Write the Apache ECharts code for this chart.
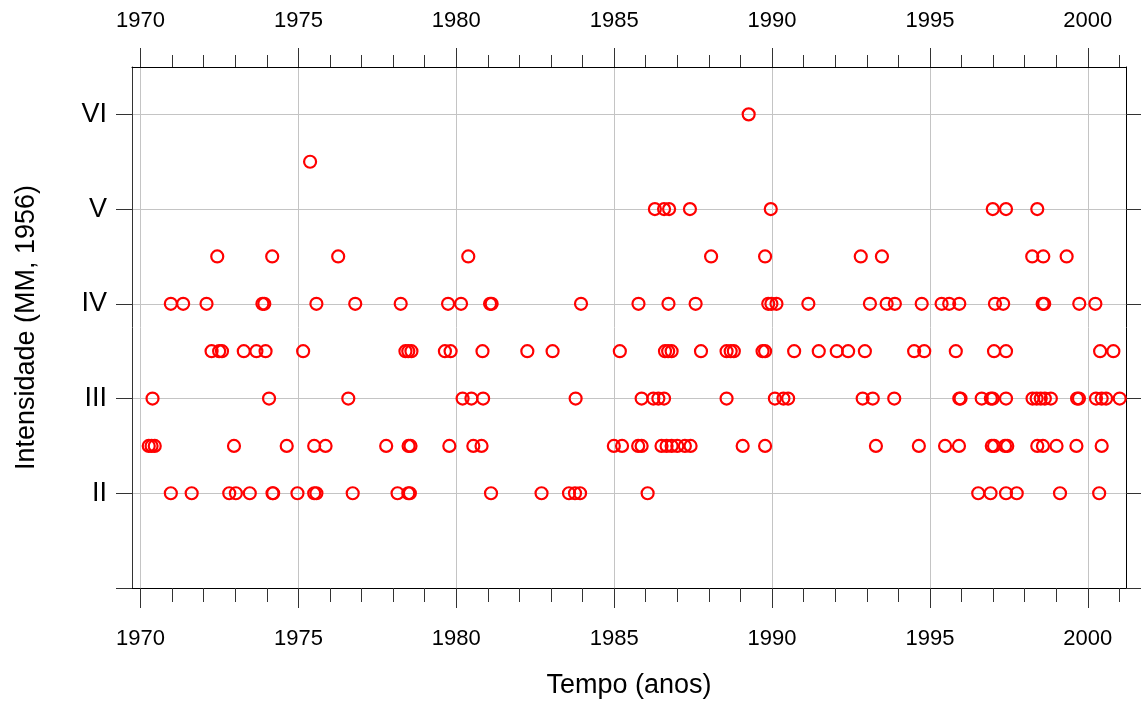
<!DOCTYPE html>
<html><head><meta charset="utf-8">
<script src="https://cdn.jsdelivr.net/npm/echarts@6/dist/echarts.min.js"></script>
<style>html,body{margin:0;padding:0;background:#fff}#c{width:1141px;height:704px}</style>
</head><body><div id="c"></div><script>
// Intensity levels (MM, 1956) and the years of the events at each level
const yearsL2 = [1970.96,1971.62,1972.81,1973.02,1973.46,1974.18,1974.20,1974.97,1975.50,1975.57,1976.72,1978.14,1978.48,1978.53,1981.10,1982.70,1983.57,1983.76,1983.92,1986.06,1996.53,1996.92,1997.41,1997.75,1999.12,2000.36];
const yearsL25 = [1970.26,1970.35,1970.45,1972.96,1974.63,1975.50,1975.86,1977.78,1978.49,1978.55,1979.78,1980.54,1980.80,1984.99,1985.25,1985.76,1985.87,1986.50,1986.66,1986.82,1987.00,1987.24,1987.42,1989.07,1989.78,1993.29,1994.65,1995.48,1995.92,1996.96,1997.03,1997.38,1997.45,1998.40,1998.58,1999.01,1999.64,2000.44];
const yearsL3 = [1970.38,1974.07,1976.58,1980.20,1980.48,1980.85,1983.78,1985.87,1986.24,1986.40,1986.58,1988.56,1990.09,1990.36,1990.51,1992.87,1993.19,1993.87,1995.93,1995.97,1996.64,1996.93,1996.99,1997.41,1998.25,1998.38,1998.51,1998.64,1998.83,1999.66,1999.72,2000.26,2000.44,2000.58,2001.01];
const yearsL35 = [1972.25,1972.49,1972.58,1973.27,1973.67,1973.96,1975.15,1978.39,1978.48,1978.58,1979.64,1979.82,1980.83,1982.25,1983.05,1985.18,1986.61,1986.71,1986.82,1987.75,1988.56,1988.69,1988.79,1989.70,1989.78,1990.70,1991.48,1992.05,1992.41,1992.94,1994.50,1994.82,1995.82,1997.03,1997.41,2000.39,2000.81];
const yearsL4 = [1970.96,1971.35,1972.09,1973.86,1973.92,1975.57,1976.80,1978.24,1979.74,1980.15,1981.07,1981.12,1983.95,1985.77,1986.72,1987.58,1989.88,1989.98,1990.14,1991.15,1993.10,1993.63,1993.89,1994.74,1995.37,1995.61,1995.93,1997.06,1997.32,1998.57,1998.62,1999.73,2000.24];
const yearsL45 = [1972.43,1974.17,1976.26,1980.38,1988.07,1989.78,1992.81,1993.48,1998.24,1998.59,1999.33];
const yearsL5 = [1986.29,1986.58,1986.74,1987.40,1989.96,1996.99,1997.41,1998.40];
const yearsL55 = [1975.37];
const yearsL6 = [1989.26];

const levels = [2, 2.5, 3, 3.5, 4, 4.5, 5, 5.5, 6];
const yearsByLevel = [yearsL2, yearsL25, yearsL3, yearsL35, yearsL4, yearsL45, yearsL5, yearsL55, yearsL6];

const xMajorTicks = [1970, 1975, 1980, 1985, 1990, 1995, 2000];
const xMinorTicks = [1970,1971,1972,1973,1974,1975,1976,1977,1978,1979,1980,1981,1982,1983,1984,1985,1986,1987,1988,1989,1990,1991,1992,1993,1994,1995,1996,1997,1998,1999,2000,2001];
const yTickValues = [1, 2, 3, 4, 5, 6];
const yLabelValues = [2, 3, 4, 5, 6];
const yTickLabels = ['II', 'III', 'IV', 'V', 'VI'];

const points = [];
levels.forEach((lv, i) => yearsByLevel[i].forEach(y => points.push([y, lv])));

const FONT = '"Liberation Sans", Arial, sans-serif';
const X_MIN = 1969.73, X_MAX = 2001.21;
const yearFmt = v => String(Math.round(v));

const chart = echarts.init(document.getElementById('c'), null, {renderer: 'canvas'});
chart.setOption({
  animation: false,
  backgroundColor: '#fff',
  grid: {left: 132, right: 15, top: 67, bottom: 115, containLabel: false},
  xAxis: [
    { // bottom major
      type: 'value', position: 'bottom', min: X_MIN, max: X_MAX,
      name: 'Tempo (anos)', nameLocation: 'middle', nameGap: 84,
      nameTextStyle: {fontFamily: FONT, fontSize: 27, color: '#000'},
      axisLine: {show: true, onZero: false, lineStyle: {color: '#000', width: 1}},
      axisTick: {show: true, inside: false, length: 20, customValues: xMajorTicks, lineStyle: {color: '#333'}},
      axisLabel: {show: true, customValues: xMajorTicks, margin: 40, fontFamily: FONT, fontSize: 22, color: '#000', formatter: yearFmt},
      splitLine: {show: true, lineStyle: {color: '#c4c4c4', width: 1}}
    },
    { // bottom minor
      type: 'value', position: 'bottom', min: X_MIN, max: X_MAX,
      axisLine: {show: false, onZero: false},
      axisTick: {show: true, inside: false, length: 14, customValues: xMinorTicks, lineStyle: {color: '#333'}},
      axisLabel: {show: false}, splitLine: {show: false}
    },
    { // top major
      type: 'value', position: 'top', min: X_MIN, max: X_MAX,
      axisLine: {show: true, onZero: false, lineStyle: {color: '#000', width: 1}},
      axisTick: {show: true, inside: false, length: 19, customValues: xMajorTicks, lineStyle: {color: '#333'}},
      axisLabel: {show: true, customValues: xMajorTicks, margin: 35, fontFamily: FONT, fontSize: 22, color: '#000', formatter: yearFmt},
      splitLine: {show: false}
    },
    { // top minor
      type: 'value', position: 'top', min: X_MIN, max: X_MAX,
      axisLine: {show: false, onZero: false},
      axisTick: {show: true, inside: false, length: 12, customValues: xMinorTicks, lineStyle: {color: '#333'}},
      axisLabel: {show: false}, splitLine: {show: false}
    }
  ],
  yAxis: [
    { // left with labels
      type: 'value', position: 'left', min: 1, max: 6.5,
      name: 'Intensidade (MM, 1956)', nameLocation: 'middle', nameGap: 92,
      nameTextStyle: {fontFamily: FONT, fontSize: 27, color: '#000'},
      axisLine: {show: true, onZero: false, lineStyle: {color: '#333', width: 1}},
      axisTick: {show: true, inside: false, length: 16, customValues: yTickValues, lineStyle: {color: '#333'}},
      axisLabel: {show: true, customValues: yLabelValues, margin: 25, fontFamily: FONT, fontSize: 27, color: '#000',
        formatter: v => yTickLabels[yLabelValues.indexOf(Math.round(v))] || ''},
      splitLine: {show: false}
    },
    { // right
      type: 'value', position: 'right', min: 1, max: 6.5,
      axisLine: {show: true, onZero: false, lineStyle: {color: '#000', width: 1}},
      axisTick: {show: true, inside: false, length: 15, customValues: yTickValues, lineStyle: {color: '#333'}},
      axisLabel: {show: false}, splitLine: {show: false}
    },
    { // horizontal grid lines
      type: 'value', position: 'left', min: 1, max: 6.5,
      axisLine: {show: false, onZero: false},
      axisTick: {show: false, customValues: yLabelValues},
      axisLabel: {show: false},
      splitLine: {show: true, lineStyle: {color: '#c4c4c4', width: 1}}
    }
  ],
  series: [{
    type: 'scatter', xAxisIndex: 0, yAxisIndex: 0,
    data: points, symbol: 'circle', symbolSize: 12,
    itemStyle: {color: 'rgba(0,0,0,0)', borderColor: '#ff0000', borderWidth: 2.2, opacity: 1},
    emphasis: {disabled: true}, z: 5
  }]
});
</script></body></html>
